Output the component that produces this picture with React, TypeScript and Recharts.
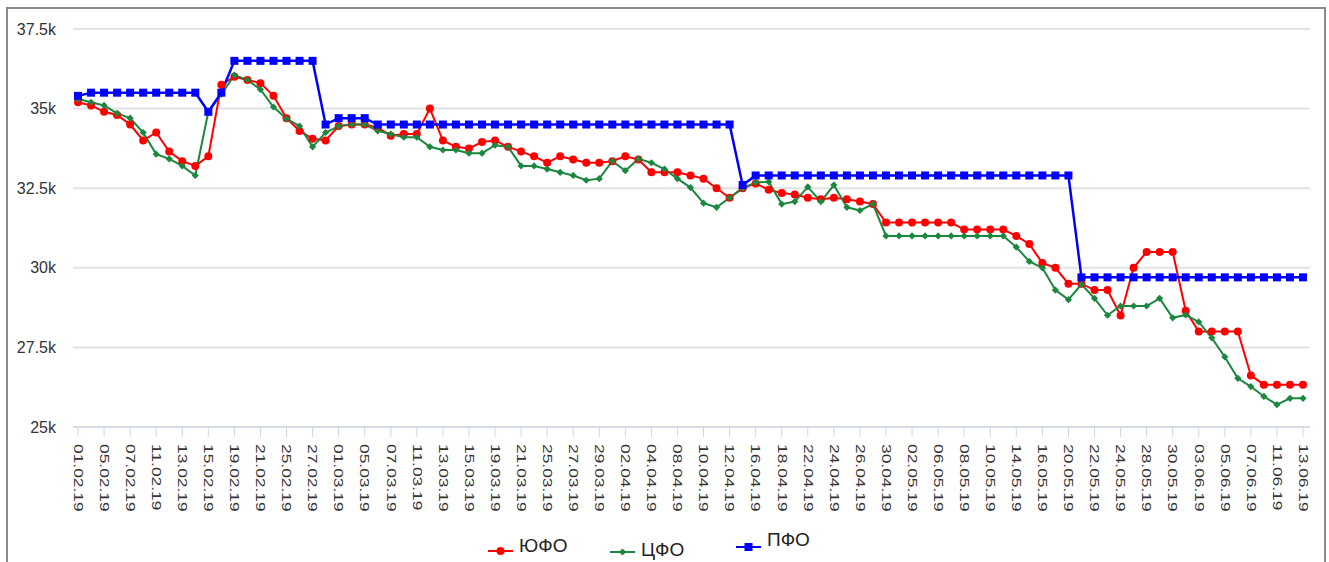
import { CartesianGrid, Line, LineChart, XAxis, YAxis } from "recharts";

// trading days 01.02.19 - 13.06.19
const dates = [
  "01.02.19", "04.02.19", "05.02.19", "06.02.19", "07.02.19", "08.02.19", "11.02.19", "12.02.19", "13.02.19", "14.02.19",
  "15.02.19", "18.02.19", "19.02.19", "20.02.19", "21.02.19", "22.02.19", "25.02.19", "26.02.19", "27.02.19", "28.02.19",
  "01.03.19", "04.03.19", "05.03.19", "06.03.19", "07.03.19", "08.03.19", "11.03.19", "12.03.19", "13.03.19", "14.03.19",
  "15.03.19", "18.03.19", "19.03.19", "20.03.19", "21.03.19", "22.03.19", "25.03.19", "26.03.19", "27.03.19", "28.03.19",
  "29.03.19", "01.04.19", "02.04.19", "03.04.19", "04.04.19", "05.04.19", "08.04.19", "09.04.19", "10.04.19", "11.04.19",
  "12.04.19", "15.04.19", "16.04.19", "17.04.19", "18.04.19", "19.04.19", "22.04.19", "23.04.19", "24.04.19", "25.04.19",
  "26.04.19", "29.04.19", "30.04.19", "01.05.19", "02.05.19", "03.05.19", "06.05.19", "07.05.19", "08.05.19", "09.05.19",
  "10.05.19", "13.05.19", "14.05.19", "15.05.19", "16.05.19", "17.05.19", "20.05.19", "21.05.19", "22.05.19", "23.05.19",
  "24.05.19", "27.05.19", "28.05.19", "29.05.19", "30.05.19", "31.05.19", "03.06.19", "04.06.19", "05.06.19", "06.06.19",
  "07.06.19", "10.06.19", "11.06.19", "12.06.19", "13.06.19",
];

const yufo = [
  35200, 35100, 34900, 34800, 34500, 34000, 34250, 33650, 33350, 33200,
  33500, 35750, 36000, 35900, 35800, 35400, 34700, 34300, 34050, 34000,
  34450, 34500, 34500, 34400, 34150, 34200, 34200, 35000, 34000, 33800,
  33750, 33950, 34000, 33800, 33650, 33500, 33300, 33500, 33400, 33300,
  33300, 33350, 33500, 33400, 33000, 33000, 33000, 32900, 32800, 32500,
  32200, 32500, 32650, 32450, 32350, 32300, 32200, 32150, 32200, 32150,
  32080, 32000, 31420, 31420, 31420, 31420, 31420, 31420, 31200, 31200,
  31200, 31200, 31000, 30750, 30150, 30000, 29500, 29500, 29300, 29300,
  28500, 30000, 30500, 30500, 30500, 28650, 28000, 28000, 28000, 28000,
  26620, 26330, 26330, 26330, 26330,
];

const cfo = [
  35300, 35200, 35100, 34850, 34700, 34250, 33570, 33420, 33200, 32900,
  34900, 35450, 36050, 35900, 35600, 35050, 34680, 34450, 33800, 34250,
  34450, 34500, 34500, 34300, 34200, 34100, 34100, 33800, 33700, 33700,
  33600, 33600, 33850, 33800, 33200, 33200, 33100, 33000, 32900, 32750,
  32800, 33350, 33050, 33420, 33300, 33100, 32800, 32520, 32030, 31900,
  32200, 32500, 32680, 32700, 32000, 32080, 32540, 32080, 32600, 31900,
  31800, 32000, 31000, 31000, 31000, 31000, 31000, 31000, 31000, 31000,
  31000, 31000, 30650, 30200, 30000, 29300, 29000, 29480, 29040, 28510,
  28800, 28800, 28800, 29040, 28430, 28520, 28300, 27800, 27200, 26530,
  26270, 25960, 25700, 25900, 25900,
];

const pfo = [
  35400, 35500, 35500, 35500, 35500, 35500, 35500, 35500, 35500, 35500,
  34900, 35500, 36500, 36500, 36500, 36500, 36500, 36500, 36500, 34500,
  34700, 34700, 34700, 34500, 34500, 34500, 34500, 34500, 34500, 34500,
  34500, 34500, 34500, 34500, 34500, 34500, 34500, 34500, 34500, 34500,
  34500, 34500, 34500, 34500, 34500, 34500, 34500, 34500, 34500, 34500,
  34500, 32600, 32900, 32900, 32900, 32900, 32900, 32900, 32900, 32900,
  32900, 32900, 32900, 32900, 32900, 32900, 32900, 32900, 32900, 32900,
  32900, 32900, 32900, 32900, 32900, 32900, 32900, 29700, 29700, 29700,
  29700, 29700, 29700, 29700, 29700, 29700, 29700, 29700, 29700, 29700,
  29700, 29700, 29700, 29700, 29700,
];

const yTicks = [25000, 27500, 30000, 32500, 35000, 37500];

const data = dates.map((d, i) => ({ date: d, yufo: yufo[i], cfo: cfo[i], pfo: pfo[i] }));

const RED = "#ff0000";
const GREEN = "#1b873f";
const BLUE = "#0000ff";

const fmtK = (v: number) => `${v / 1000}k`;

const XTick = (props: any) => {
  const { x, y, payload } = props;
  return (
    <g transform={`translate(${x},${y})`}>
      <text transform="rotate(90) scale(1.45,1)" dy="0.35em" textAnchor="start" fontSize={12} fill="#333">
        {payload.value}
      </text>
    </g>
  );
};

const Diamond = (props: any) => {
  const { cx, cy } = props;
  if (cx == null || cy == null) return null;
  const r = 3.6;
  return <path d={`M${cx},${cy - r}L${cx + r},${cy}L${cx},${cy + r}L${cx - r},${cy}Z`} fill={GREEN} />;
};

const Square = (props: any) => {
  const { cx, cy } = props;
  if (cx == null || cy == null) return null;
  return <rect x={cx - 4} y={cy - 4} width={8} height={8} fill={BLUE} />;
};

const legendItems = [
  { name: "ЮФО", color: RED, shape: "circle", left: 488, top: 545, textTop: 536 },
  { name: "ЦФО", color: GREEN, shape: "diamond", left: 610, top: 546, textTop: 540 },
  { name: "ПФО", color: BLUE, shape: "square", left: 736, top: 541, textTop: 530 },
];

const LegendIcon = ({ color, shape }: { color: string; shape: string }) => (
  <svg width={25} height={12}>
    <line x1={0} y1={6} x2={25} y2={6} stroke={color} strokeWidth={2} />
    {shape === "circle" && <circle cx={12.5} cy={6} r={4} fill={color} />}
    {shape === "diamond" && <path d="M12.5,2.4L16.1,6L12.5,9.6L8.9,6Z" fill={color} />}
    {shape === "square" && <rect x={8.5} y={2} width={8} height={8} fill={color} />}
  </svg>
);

export default function App() {
  return (
    <div style={{ position: "relative", width: 1329, height: 562, overflow: "hidden", fontFamily: "Arial, 'Liberation Sans', sans-serif" }}>
      <style>{`body{margin:0}`}</style>
      <div
        style={{
          position: "absolute",
          left: 6,
          top: 7,
          width: 1320,
          height: 600,
          border: "2px solid #8a8a8a",
          boxSizing: "border-box",
        }}
      />
      <div style={{ position: "absolute", left: 0, top: 0 }}>
        <LineChart width={1329} height={562} data={data} margin={{ top: 29, right: 19, bottom: 45, left: 0 }}>
          <CartesianGrid vertical={false} stroke="#e2e2e2" strokeWidth={2} />
          <XAxis
            dataKey="date"
            interval={1}
            padding={{ left: 5, right: 7 }}
            height={90}
            tickSize={10}
            tickMargin={7}
            tickLine={{ stroke: "#ccd6eb" }}
            axisLine={{ stroke: "#ccd6eb" }}
            tick={<XTick />}
          />
          <YAxis
            domain={[25000, 37500]}
            ticks={yTicks}
            width={73}
            axisLine={false}
            tickLine={false}
            tickSize={0}
            tickMargin={17}
            tickFormatter={fmtK}
            tick={{ fill: "#333", fontSize: 16 }}
          />
          <Line
            dataKey="yufo"
            name="ЮФО"
            type="linear"
            stroke={RED}
            strokeWidth={2}
            dot={{ r: 4, fill: RED, stroke: "none" }}
            activeDot={false}
            isAnimationActive={false}
          />
          <Line
            dataKey="cfo"
            name="ЦФО"
            type="linear"
            stroke={GREEN}
            strokeWidth={2}
            dot={<Diamond />}
            activeDot={false}
            isAnimationActive={false}
          />
          <Line
            dataKey="pfo"
            name="ПФО"
            type="linear"
            stroke={BLUE}
            strokeWidth={2.5}
            dot={<Square />}
            activeDot={false}
            isAnimationActive={false}
          />
        </LineChart>
      </div>
      {legendItems.map((it) => (
        <div key={it.name}>
          <div style={{ position: "absolute", left: it.left, top: it.top, lineHeight: 0 }}>
            <LegendIcon color={it.color} shape={it.shape} />
          </div>
          <div style={{ position: "absolute", left: it.left + 31, top: it.textTop, fontSize: 19, lineHeight: "19px", color: "#222" }}>
            {it.name}
          </div>
        </div>
      ))}
    </div>
  );
}
